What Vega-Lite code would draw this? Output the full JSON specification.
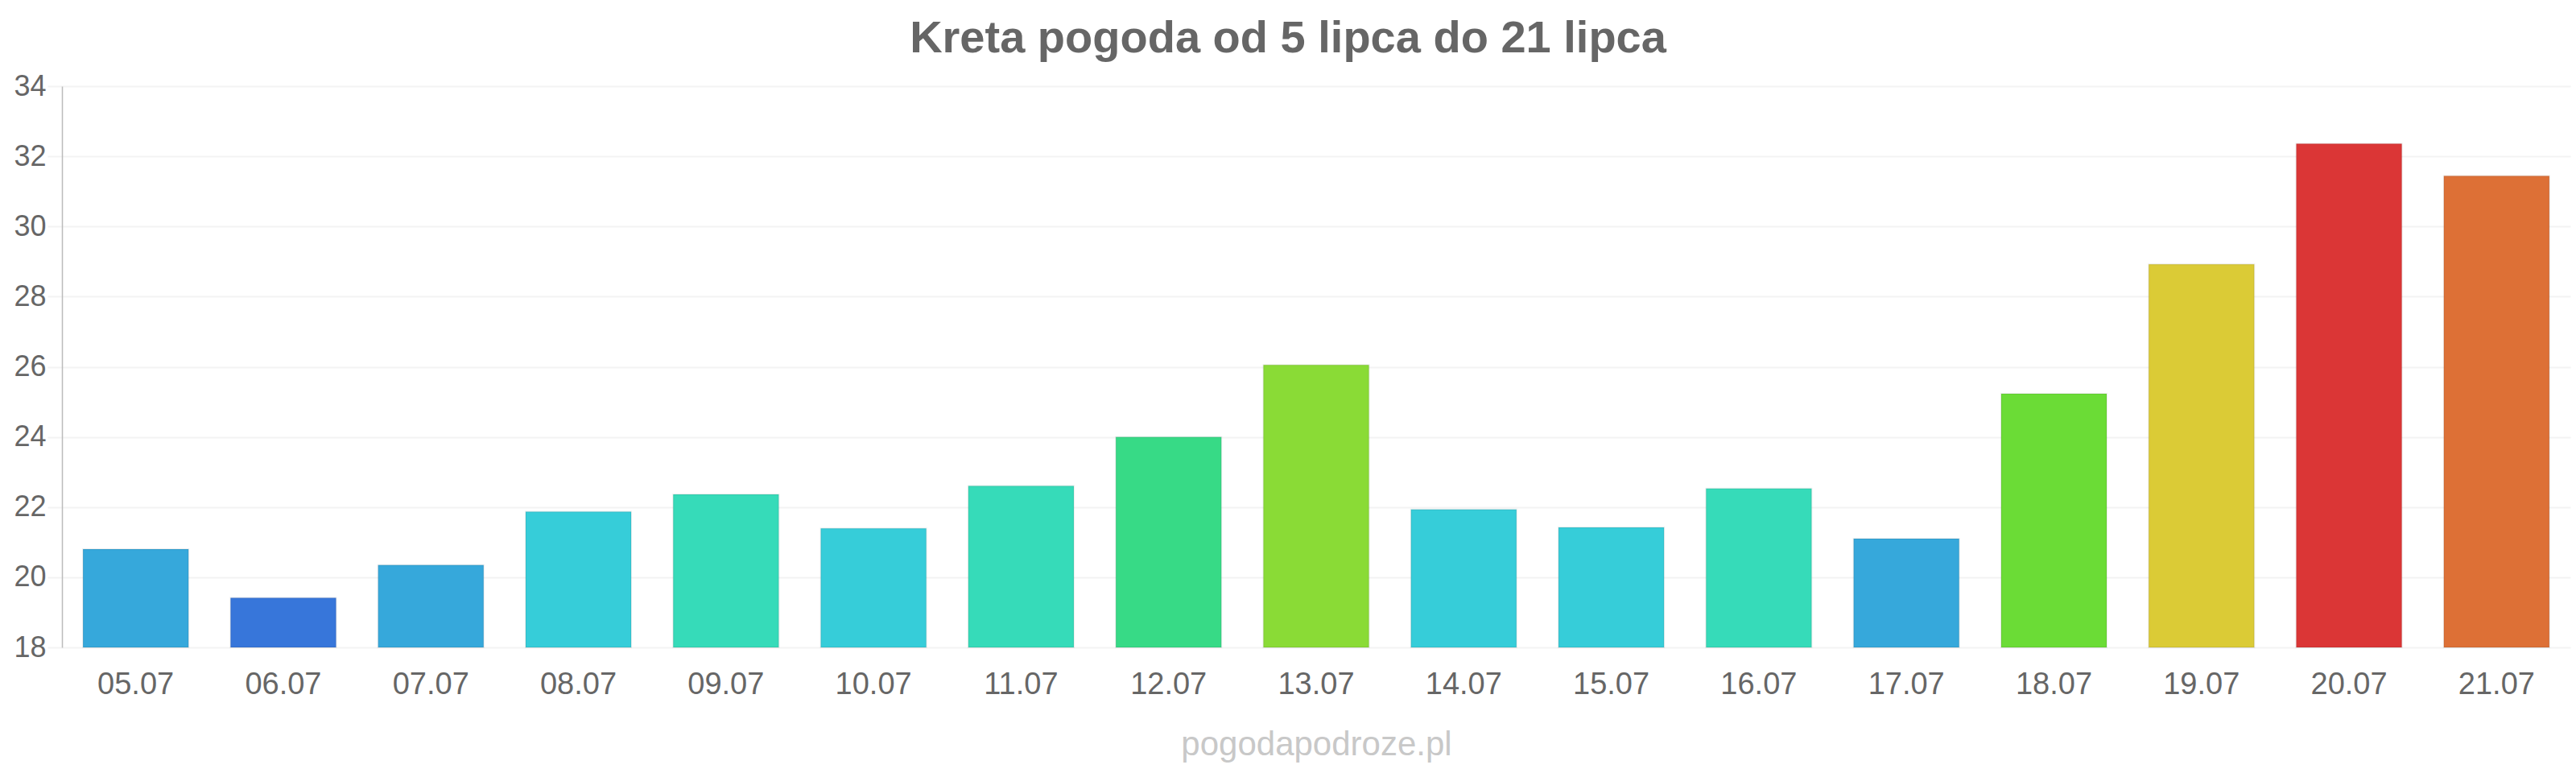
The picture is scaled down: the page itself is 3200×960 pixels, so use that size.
{
  "$schema": "https://vega.github.io/schema/vega-lite/v6.json",
  "autosize": {"type": "none"},
  "width": 3116,
  "height": 697,
  "padding": {"left": 77, "top": 107, "right": 7, "bottom": 156},
  "background": "#ffffff",
  "title": {
    "text": "Kreta pogoda od 5 lipca do 21 lipca",
    "font": "Liberation Sans",
    "fontSize": 56,
    "fontWeight": "bold",
    "color": "#666666",
    "anchor": "middle",
    "baseline": "alphabetic",
    "offset": 34,
    "dx": -35,
    "dy": 66
  },
  "data": {
    "values": [
      {"date": "05.07", "temp": 20.8},
      {"date": "06.07", "temp": 19.41},
      {"date": "07.07", "temp": 20.35},
      {"date": "08.07", "temp": 21.87},
      {"date": "09.07", "temp": 22.36},
      {"date": "10.07", "temp": 21.39},
      {"date": "11.07", "temp": 22.6},
      {"date": "12.07", "temp": 24.0},
      {"date": "13.07", "temp": 26.05},
      {"date": "14.07", "temp": 21.93},
      {"date": "15.07", "temp": 21.42},
      {"date": "16.07", "temp": 22.53},
      {"date": "17.07", "temp": 21.1},
      {"date": "18.07", "temp": 25.23},
      {"date": "19.07", "temp": 28.92},
      {"date": "20.07", "temp": 32.36},
      {"date": "21.07", "temp": 31.44}
    ]
  },
  "mark": {"type": "bar", "strokeWidth": 2, "stroke": "#000000", "strokeOpacity": 0.07, "fillOpacity": 1},
  "encoding": {
    "x": {
      "field": "date",
      "type": "nominal",
      "sort": null,
      "scale": {"paddingInner": 0.285, "paddingOuter": 0.1425},
      "axis": {
        "title": "pogodapodroze.pl",
        "titleFont": "Liberation Sans",
        "titleFontSize": 42,
        "titleFontWeight": "normal",
        "titleColor": "#c8c8c8",
        "titlePadding": 35,
        "labelAngle": 0,
        "labelFont": "Liberation Sans",
        "labelFontSize": 38,
        "labelColor": "#666666",
        "labelPadding": 27,
        "ticks": false,
        "domain": false,
        "grid": false
      }
    },
    "y": {
      "field": "temp",
      "type": "quantitative",
      "scale": {"domain": [18, 34], "zero": false, "nice": false},
      "axis": {
        "title": null,
        "values": [18, 20, 22, 24, 26, 28, 30, 32, 34],
        "labelFont": "Liberation Sans",
        "labelFontSize": 36,
        "labelColor": "#666666",
        "labelPadding": 2,
        "tickSize": 18,
        "tickColor": "#f3f3f3",
        "tickWidth": 2,
        "grid": true,
        "gridColor": "#f3f3f3",
        "gridWidth": 2,
        "domain": true,
        "domainColor": "#bbbbbb",
        "domainWidth": 1.5
      }
    },
    "y2": {"datum": 18},
    "color": {
      "field": "date",
      "type": "nominal",
      "legend": null,
      "scale": {
        "domain": ["05.07","06.07","07.07","08.07","09.07","10.07","11.07","12.07","13.07","14.07","15.07","16.07","17.07","18.07","19.07","20.07","21.07"],
        "range": ["#36a8db","#3776da","#36a8db","#36cdd9","#36dbb9","#36cdd9","#36dbb9","#37da86","#8adb36","#36cdd9","#36cdd9","#36dbb9","#36a8db","#6bdc36","#dbcb36","#db3636","#dd7036"]
      }
    }
  },
  "config": {"view": {"stroke": null}}
}
